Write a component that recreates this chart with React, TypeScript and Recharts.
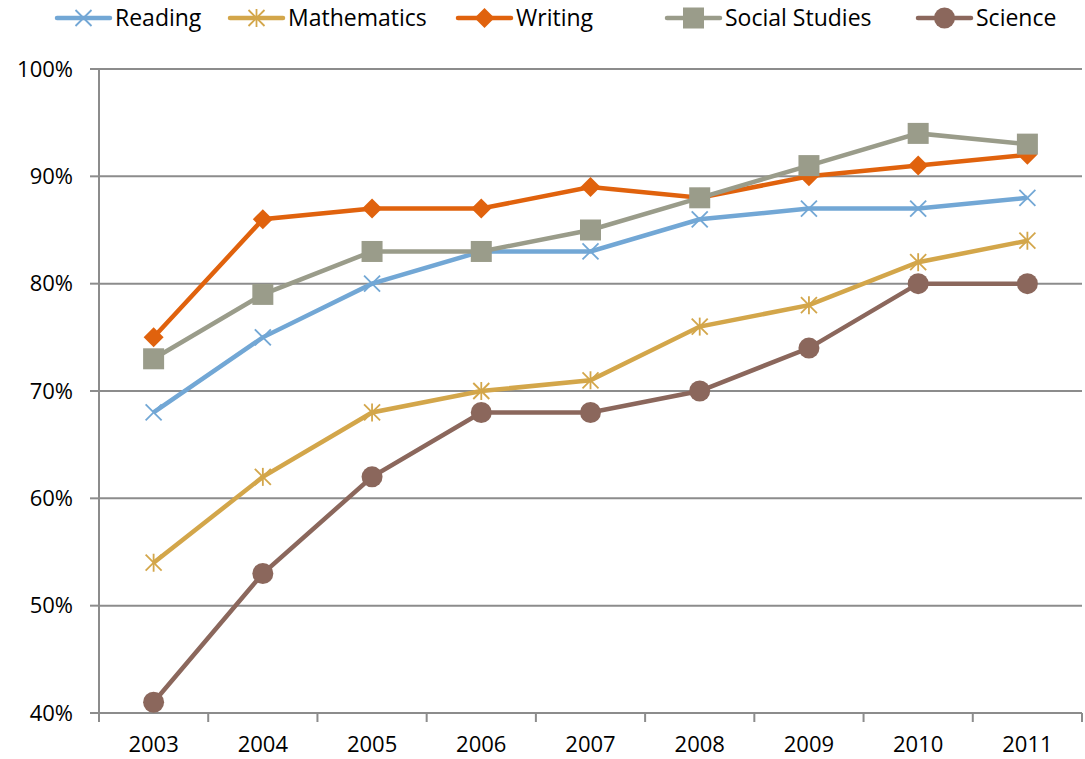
import React from 'react';
import { LineChart, Line, XAxis, YAxis, CartesianGrid } from 'recharts';

const years = [2003, 2004, 2005, 2006, 2007, 2008, 2009, 2010, 2011];
const reading = [68, 75, 80, 83, 83, 86, 87, 87, 88];
const mathematics = [54, 62, 68, 70, 71, 76, 78, 82, 84];
const writing = [75, 86, 87, 87, 89, 88, 90, 91, 92];
const socialStudies = [73, 79, 83, 83, 85, 88, 91, 94, 93];
const science = [41, 53, 62, 68, 68, 70, 74, 80, 80];
const yTicks = [40, 50, 60, 70, 80, 90, 100];

const data = years.map((y, i) => ({
  year: y,
  reading: reading[i],
  mathematics: mathematics[i],
  writing: writing[i],
  social: socialStudies[i],
  science: science[i],
}));

const boundaries = [...years.map((y) => y - 0.5), years[years.length - 1] + 0.5];
const xTicks = [...boundaries, ...years].sort((a, b) => a - b);

const FONT = '"Open Sans", Lato, sans-serif';
const GRID = '#8c8c8c';
const C = {
  reading: '#72a7d5',
  mathematics: '#d3a64a',
  writing: '#e0620d',
  social: '#9a9c8a',
  science: '#8b675c',
};

type MP = { cx: number; cy: number; color: string };

const Cross = ({ cx, cy, color }: MP) => {
  const s = 8;
  return (
    <g>
      <line x1={cx - s} y1={cy - s} x2={cx + s} y2={cy + s} stroke={color} strokeWidth={1.8} />
      <line x1={cx - s} y1={cy + s} x2={cx + s} y2={cy - s} stroke={color} strokeWidth={1.8} />
    </g>
  );
};
const Star = ({ cx, cy, color }: MP) => {
  const s = 8;
  return (
    <g>
      <line x1={cx - s} y1={cy - s} x2={cx + s} y2={cy + s} stroke={color} strokeWidth={1.8} />
      <line x1={cx - s} y1={cy + s} x2={cx + s} y2={cy - s} stroke={color} strokeWidth={1.8} />
      <line x1={cx} y1={cy - s - 1} x2={cx} y2={cy + s + 1} stroke={color} strokeWidth={1.8} />
    </g>
  );
};
const Diamond = ({ cx, cy, color }: MP) => {
  const s = 10;
  return <path d={`M${cx},${cy - s}L${cx + s},${cy}L${cx},${cy + s}L${cx - s},${cy}Z`} fill={color} />;
};
const Square = ({ cx, cy, color }: MP) => {
  const s = 10.5;
  return <rect x={cx - s} y={cy - s} width={2 * s} height={2 * s} fill={color} />;
};
const Circle = ({ cx, cy, color }: MP) => <circle cx={cx} cy={cy} r={10.5} fill={color} />;

const series = [
  { key: 'reading', name: 'Reading', color: C.reading, M: Cross },
  { key: 'mathematics', name: 'Mathematics', color: C.mathematics, M: Star },
  { key: 'writing', name: 'Writing', color: C.writing, M: Diamond },
  { key: 'social', name: 'Social Studies', color: C.social, M: Square },
  { key: 'science', name: 'Science', color: C.science, M: Circle },
];
const legendX = [57, 230, 458, 667, 918];

const XTick = (props: any) => {
  const { x, y, payload } = props;
  const v = payload.value as number;
  if (Math.abs(v - Math.round(v)) > 0.1) {
    return <line x1={x} y1={y} x2={x} y2={y + 9} stroke={GRID} strokeWidth={2} />;
  }
  return (
    <text x={x} y={y + 39} textAnchor="middle" fontSize={22} fontFamily={FONT} fill="#000">
      {v}
    </text>
  );
};

export default function App() {
  return (
    <div style={{ position: 'absolute', left: 0, top: 0, width: 1085, height: 759, background: '#fff' }}>
      <LineChart
        width={1085}
        height={759}
        data={data}
        margin={{ top: 69, right: 3, left: 0, bottom: 0 }}
      >
        <CartesianGrid vertical={false} stroke={GRID} strokeWidth={2} />
        <XAxis
          dataKey="year"
          type="number"
          domain={[boundaries[0], boundaries[boundaries.length - 1]]}
          ticks={xTicks}
          interval={0}
          height={46}
          tickSize={0}
          tickMargin={0}
          tickLine={false}
          axisLine={{ stroke: GRID, strokeWidth: 2 }}
          tick={<XTick />}
        />
        <YAxis
          width={99}
          domain={[40, 100]}
          ticks={yTicks}
          interval={0}
          tickSize={9}
          tickMargin={17}
          tickFormatter={(v: number) => `${v}%`}
          tick={{ fontSize: 22, fontFamily: FONT, fill: '#000' }}
          tickLine={{ stroke: GRID, strokeWidth: 2 }}
          axisLine={{ stroke: GRID, strokeWidth: 2 }}
        />
        {series.map((s) => (
          <Line
            key={s.key}
            dataKey={s.key}
            name={s.name}
            stroke={s.color}
            strokeWidth={4.5}
            isAnimationActive={false}
            activeDot={false}
            dot={(p: any) => <s.M key={`${s.key}-${p.index}`} cx={p.cx} cy={p.cy} color={s.color} />}
          />
        ))}
      </LineChart>
      <svg width={1085} height={40} style={{ position: 'absolute', left: 0, top: 0 }}>
        {series.map((s, i) => {
          const x0 = legendX[i];
          const cy = 18;
          return (
            <g key={s.key}>
              <line x1={x0} y1={cy} x2={x0 + 53} y2={cy} stroke={s.color} strokeWidth={4.5} strokeLinecap="round" />
              <s.M cx={x0 + 26.5} cy={cy} color={s.color} />
              <text x={x0 + 58} y={cy} dy="0.36em" fontSize={23} fontFamily={FONT} fill="#000">
                {s.name}
              </text>
            </g>
          );
        })}
      </svg>
    </div>
  );
}
